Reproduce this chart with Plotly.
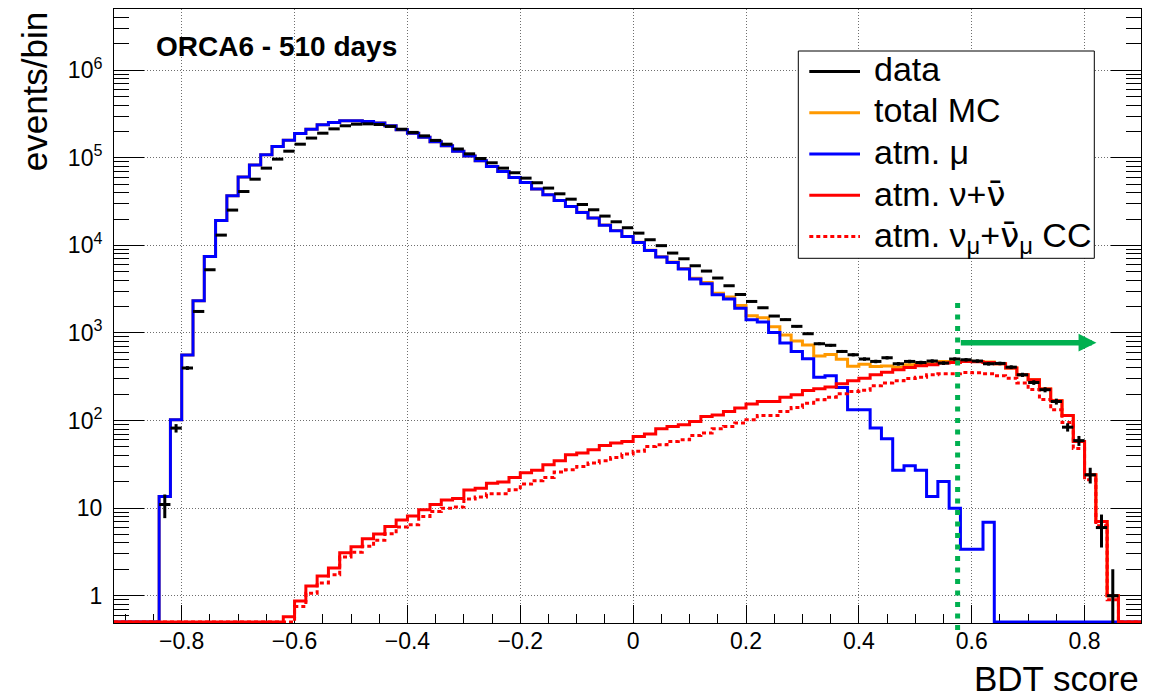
import numpy as np
import plotly.graph_objects as go

# ---------------------------------------------------------------------------
# Histogram binning (BDT score)
# ---------------------------------------------------------------------------
X_MIN, X_MAX, BIN_W = -0.92, 0.90, 0.02
EDGES = np.round(np.arange(X_MIN, X_MAX + BIN_W / 2, BIN_W), 2)

# atm. muon MC, bins starting at -0.84
MU_FIRST_EDGE = -0.84
ATM_MU = [
    13.6, 102, 560, 2330, 7460, 19200, 36800, 60300, 82600, 108000,
    135000, 159000, 190000, 212000, 238000, 253000, 264000, 264000, 260000, 249000,
    232000, 209000, 191000, 172000, 152000, 137000, 119000, 105000, 92500, 79600,
    69800, 59600, 52200, 43900, 37800, 32600, 27800, 23800, 20500, 17000,
    14700, 12600, 10800, 8750, 7350, 6380, 5360, 4120, 3650, 2730,
    2440, 1920, 1420, 1330, 1010, 766, 615, 507, 313, 325,
    239, 133, 133, 82, 62, 27, 30.5, 27, 13.6, 20.2,
    10, 3.4, 3.4, 6.9,
]

# atm. neutrino MC (all flavours) and numu CC component, bins starting at -0.62
NU_FIRST_EDGE = -0.62
ATM_NU = [
    0.575, 0.87, 1.29, 1.68, 2.07, 3.09, 3.63, 4.47, 5.08, 6.18,
    7.31, 8.13, 9.6, 11.0, 12.4, 12.9, 16.1, 16.9, 19.2, 19.9,
    22.4, 25.4, 27.1, 31.3, 34.8, 40.7, 42.6, 46.5, 52.0, 55.3,
    57.8, 65.9, 70.0, 80.5, 85.7, 89.5, 97.7, 111, 116, 127,
    139, 154, 165, 165, 184, 197, 220, 231, 241, 263,
    285, 305, 333, 357, 380, 404, 422, 433, 453, 460,
    472, 468, 460, 445, 397, 333, 292, 229, 168, 114,
    57.8, 24.0, 7.05, 1.0,
]
NUMU_CC = [
    0.4, 0.755, 1.07, 1.40, 1.74, 2.76, 3.13, 3.66, 4.29, 5.1,
    6.08, 6.46, 8.05, 9.18, 10.0, 10.3, 12.7, 13.4, 14.6, 14.6,
    16.2, 18.8, 20.6, 22.4, 25.8, 27.4, 29.9, 32.7, 34.8, 37.9,
    41.4, 44.5, 50.7, 53.0, 57.8, 60.4, 67.6, 71.9, 80.5, 85.7,
    93.5, 102, 114, 114, 127, 141, 158, 173, 185, 202,
    215, 222, 249, 268, 284, 303, 313, 333, 342, 342,
    354, 351, 342, 324, 305, 268, 226, 174, 133, 95,
    47.9, 21.1, 6.3, 0.9,
]

# observed events per bin, bins starting at -0.84
DATA_FIRST_EDGE = -0.84
DATA = [
    11, 82, 398, 1760, 5270, 13100, 25300, 41200, 57000, 76200,
    96600, 119000, 143000, 168000, 191000, 214000, 232000, 242000, 244000, 240000,
    228000, 212000, 195000, 178000, 158000, 143000, 126000, 111000, 98200, 87700,
    76200, 67500, 58600, 51900, 45100, 38800, 33700, 29300, 25500, 21600,
    18600, 15900, 13800, 11600, 9930, 8170, 7030, 5850, 5090, 4240,
    3460, 2750, 2290, 1940, 1560, 1420, 1190, 980, 753, 723,
    615, 564, 504, 473, 521, 445, 473, 460, 478, 453,
    504, 494, 478, 445, 449, 407, 333, 272, 225, 165,
    84, 59, 24, 6, 1,
]

# selection cut on the BDT score and arrow marking the kept region
CUT = 0.575
ARROW_END = 0.821
ARROW_LEVEL = 775          # events/bin
CUT_LINE_TOP = 2300        # events/bin

# axis ticks
Y_TICKS = [1, 10, 100, 1e3, 1e4, 1e5, 1e6]
Y_TICK_LABELS = ["1", "10", "10<sup>2</sup>", "10<sup>3</sup>",
                 "10<sup>4</sup>", "10<sup>5</sup>", "10<sup>6</sup>"]
Y_MIN, Y_MAX = 0.488, 5e6
Y_FLOOR = 0.5              # empty bins are drawn on the lower frame edge

# anti-neutrino symbol: DejaVu Sans places the combining macron over the nu
NUBAR = "<span style=\"font-family:'DejaVu Sans'\">\u03bd\u0304</span>"
LEGEND_LABELS = [
    "data",
    "total MC",
    "atm. \u03bc",
    "atm. \u03bd+" + NUBAR,
    "atm. \u03bd<sub>\u03bc</sub>+" + NUBAR + "<sub>\u03bc</sub> CC",
]

BLACK = "#000000"
ORANGE = "#FF9900"
BLUE = "#0000FF"
RED = "#FF0000"
GREEN = "#00B050"
FONT = "Liberation Sans, Arial, Helvetica, sans-serif"

# ---------------------------------------------------------------------------
# helpers
# ---------------------------------------------------------------------------
N_BINS = len(EDGES) - 1
CENTERS = (EDGES[:-1] + EDGES[1:]) / 2


def to_bins(first_edge, values):
    out = np.zeros(N_BINS)
    i0 = int(round((first_edge - X_MIN) / BIN_W))
    out[i0:i0 + len(values)] = values
    return out


def step_y(values):
    v = np.maximum(values, Y_FLOOR)
    return np.append(v, v[-1])


mu = to_bins(MU_FIRST_EDGE, ATM_MU)
nu = to_bins(NU_FIRST_EDGE, ATM_NU)
numu = to_bins(NU_FIRST_EDGE, NUMU_CC)
total = mu + nu
data = to_bins(DATA_FIRST_EDGE, DATA)

W, H = 1165, 698
M_L, M_R, M_T, M_B = 114, 24, 9, 75
PLOT_W, PLOT_H = W - M_L - M_R, H - M_T - M_B


def px_x(px):
    return (px - M_L) / PLOT_W


def px_y(py):
    return 1 - (py - M_T) / PLOT_H


fig = go.Figure()


def hist_trace(values, color, dash="solid"):
    return go.Scatter(
        x=EDGES, y=step_y(values), mode="lines", line_shape="hv",
        line=dict(color=color, width=3, dash=dash),
        hoverinfo="skip", showlegend=False,
    )


fig.add_trace(hist_trace(total, ORANGE))
fig.add_trace(hist_trace(mu, BLUE))
fig.add_trace(hist_trace(nu, RED))
fig.add_trace(hist_trace(numu, RED, dash="4px,3px"))

has = data > 0
fig.add_trace(go.Scatter(
    x=CENTERS[has], y=data[has], mode="markers",
    marker=dict(size=1, color=BLACK),
    error_x=dict(type="constant", value=BIN_W / 2, thickness=3, width=0, color=BLACK),
    error_y=dict(type="data", array=np.sqrt(data[has]), thickness=3, width=0, color=BLACK),
    showlegend=False, hoverinfo="skip",
))

grid = dict(showgrid=True, gridcolor="rgb(110,110,110)", gridwidth=1, griddash="1px,2px")

y_minor = [m * 10.0 ** k for k in range(-1, 7) for m in range(2, 10)
           if Y_MIN <= m * 10.0 ** k <= Y_MAX]

fig.update_layout(
    width=W, height=H,
    margin=dict(l=M_L, r=M_R, t=M_T, b=M_B),
    paper_bgcolor="white", plot_bgcolor="white",
    showlegend=False,
    font=dict(family=FONT, color=BLACK),
    xaxis=dict(
        range=[X_MIN, X_MAX], tick0=0, dtick=0.2,
        ticks="inside", ticklen=18, tickwidth=1, tickcolor=BLACK,
        minor=dict(tick0=0, dtick=0.05, ticks="inside", ticklen=9,
                   tickwidth=1, tickcolor=BLACK, showgrid=False),
        showline=True, linecolor=BLACK, linewidth=1, mirror=True,
        zeroline=False, tickfont=dict(size=23, family=FONT),
        ticklabelstandoff=-3,
        layer="below traces", **grid,
    ),
    xaxis2=dict(
        overlaying="x", side="top", range=[X_MIN, X_MAX], tick0=0, dtick=0.2,
        ticks="inside", ticklen=8, tickwidth=1, tickcolor=BLACK,
        minor=dict(tick0=0, dtick=0.05, ticks="inside", ticklen=5,
                   tickwidth=1, tickcolor=BLACK, showgrid=False),
        showticklabels=False, showgrid=False, showline=False, zeroline=False,
        layer="below traces",
    ),
    yaxis=dict(
        type="log", range=[np.log10(Y_MIN), np.log10(Y_MAX)],
        tickmode="array", tickvals=Y_TICKS, ticktext=Y_TICK_LABELS,
        ticks="inside", ticklen=30, tickwidth=1, tickcolor=BLACK,
        minor=dict(tickmode="array", tickvals=y_minor, ticks="inside",
                   ticklen=15, tickwidth=1, tickcolor=BLACK, showgrid=False),
        showline=True, linecolor=BLACK, linewidth=1, mirror="ticks",
        zeroline=False, tickfont=dict(size=23, family=FONT),
        ticklabelstandoff=6,
        layer="below traces", **grid,
    ),
)

# selection cut and arrow
fig.add_shape(type="line", xref="x", yref="paper",
              x0=CUT, x1=CUT, y0=px_y(630),
              y1=(np.log10(CUT_LINE_TOP) - np.log10(Y_MIN)) / (np.log10(Y_MAX) - np.log10(Y_MIN)),
              line=dict(color=GREEN, width=5, dash="5px,6.5px"))
fig.add_annotation(x=ARROW_END, y=np.log10(ARROW_LEVEL), xref="x", yref="y",
                   ax=CUT + 0.003, ay=np.log10(ARROW_LEVEL), axref="x", ayref="y",
                   text="", showarrow=True, arrowhead=2, arrowsize=0.65,
                   arrowwidth=5.5, arrowcolor=GREEN, standoff=0, startstandoff=0)

# titles
fig.add_annotation(text="<b>ORCA6 - 510 days</b>", xref="paper", yref="paper",
                   x=px_x(154), y=px_y(28.7), xanchor="left", yanchor="top",
                   showarrow=False, font=dict(size=28, family=FONT, color=BLACK))
fig.add_annotation(text="events/bin", xref="paper", yref="paper",
                   x=px_x(34.3), y=1.0, xanchor="center", yanchor="top",
                   textangle=-90, showarrow=False,
                   font=dict(size=35, family=FONT, color=BLACK))
fig.add_annotation(text="BDT score", xref="paper", yref="paper",
                   x=1.0, y=px_y(657), xanchor="right", yanchor="top",
                   showarrow=False, font=dict(size=35, family=FONT, color=BLACK))

# legend box
LEG_X0, LEG_X1, LEG_Y0, LEG_Y1 = 798.3, 1094.3, 51, 258.3
fig.add_shape(type="rect", xref="paper", yref="paper", layer="above",
              x0=px_x(LEG_X0), x1=px_x(LEG_X1), y0=px_y(LEG_Y1), y1=px_y(LEG_Y0),
              fillcolor="white", line=dict(color=BLACK, width=1))
legend_styles = [(BLACK, "solid"), (ORANGE, "solid"), (BLUE, "solid"),
                 (RED, "solid"), (RED, "4px,3px")]
for i, (label, (color, dash)) in enumerate(zip(LEGEND_LABELS, legend_styles)):
    baseline = 80 + 41.25 * i
    line_y = baseline - 8.5
    fig.add_shape(type="line", xref="paper", yref="paper", layer="above",
                  x0=px_x(809.3), x1=px_x(860), y0=px_y(line_y), y1=px_y(line_y),
                  line=dict(color=color, width=3, dash=dash))
    fig.add_annotation(text=label, xref="paper", yref="paper",
                       x=px_x(871.5), y=px_y(baseline - 31.8),
                       xanchor="left", yanchor="top", showarrow=False,
                       font=dict(size=34, family=FONT, color=BLACK))

fig.write_html("out.html")
